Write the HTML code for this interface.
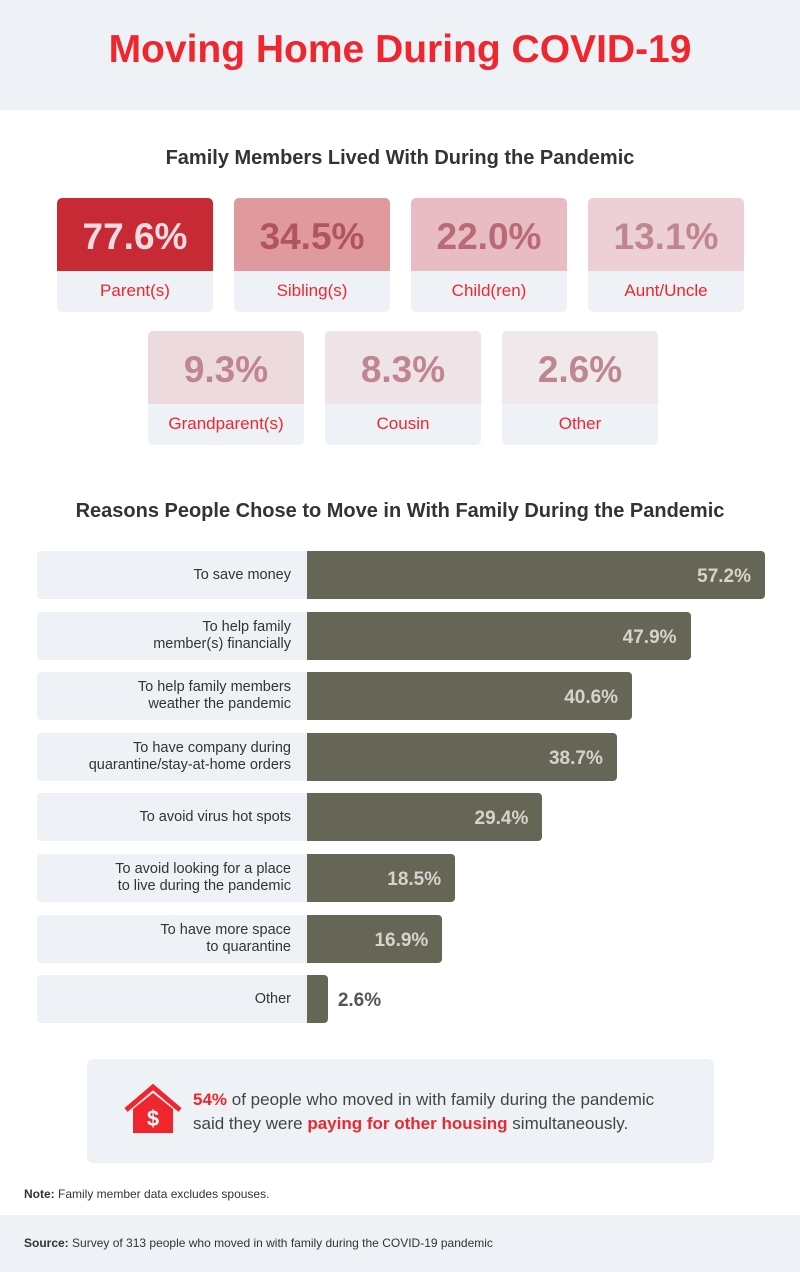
<!DOCTYPE html>
<html><head><meta charset="utf-8"><style>
*{margin:0;padding:0;box-sizing:border-box}
body{width:800px;height:1272px;background:#fff;font-family:"Liberation Sans",sans-serif;position:relative;overflow:hidden;color:#333}
.abs{position:absolute}
.card{position:absolute;width:156px;height:114px;border-radius:5px;overflow:hidden;background:#eef1f6}
.card .num{height:73px;font-weight:bold;font-size:37px;text-align:center;line-height:78px}
.card .lab{height:41px;line-height:40px;text-align:center;color:#f0262f;font-size:17px}
.lbl{position:absolute;left:37px;width:270px;height:48px;background:#eef1f6;border-radius:4px 0 0 4px;display:flex;align-items:center;justify-content:flex-end;padding-right:16px;text-align:right;font-size:14.5px;line-height:17px;color:#333}
.bar{position:absolute;left:307px;height:48px;background:#666657;border-radius:0 4px 4px 0}
.val{position:absolute;font-size:19px;font-weight:bold;line-height:52px}
</style></head><body>
<div class="abs" style="left:0;top:0;width:800px;height:110px;background:#eef1f6"></div>
<div class="abs" style="left:0;top:28px;width:800px;text-align:center;font-size:39px;font-weight:bold;color:#f0262f">Moving Home During COVID-19</div>
<div class="abs" style="left:0;top:147px;width:800px;text-align:center;font-size:20px;font-weight:bold;color:#333">Family Members Lived With During the Pandemic</div>
<div id="cards"></div>
<div class="abs" style="left:0;top:500px;width:800px;text-align:center;font-size:20px;font-weight:bold;color:#333">Reasons People Chose to Move in With Family During the Pandemic</div>
<div id="chart"></div>
<div class="abs" style="left:87px;top:1059px;width:627px;height:104px;background:#eef1f6;border-radius:6px"></div>
<svg class="abs" style="left:124px;top:1083px" width="58" height="52" viewBox="0 0 58 52"><path d="M2 27 L29 4 L56 27" fill="none" stroke="#f0262f" stroke-width="5"/><path d="M9 26 L29 10 L49 26 L49 50 L9 50Z" fill="#f0262f"/><text x="29" y="43" text-anchor="middle" font-size="22" font-weight="bold" fill="#fff" font-family="Liberation Sans">$</text></svg>
<div class="abs" style="left:193px;top:1088px;font-size:17px;line-height:24px;color:#444"><b style="color:#f0262f">54%</b> of people who moved in with family during the pandemic<br>said they were <b style="color:#f0262f">paying for other housing</b> simultaneously.</div>
<div class="abs" style="left:24px;top:1187px;font-size:12px;color:#333"><b>Note:</b> Family member data excludes spouses.</div>
<div class="abs" style="left:0;top:1215px;width:800px;height:57px;background:#eef1f6"></div>
<div class="abs" style="left:24px;top:1236px;font-size:12px;color:#333"><b>Source:</b> Survey of 313 people who moved in with family during the COVID-19 pandemic</div>
<script>
const famLabels=["Parent(s)","Sibling(s)","Child(ren)","Aunt/Uncle","Grandparent(s)","Cousin","Other"];
const famValues=[77.6,34.5,22.0,13.1,9.3,8.3,2.6];
const reasonLabels=["To save money","To help family<br>member(s) financially","To help family members<br>weather the pandemic","To have company during<br>quarantine/stay-at-home orders","To avoid virus hot spots","To avoid looking for a place<br>to live during the pandemic","To have more space<br>to quarantine","Other"];
const reasonValues=[57.2,47.9,40.6,38.7,29.4,18.5,16.9,2.6];
const cardBg=["#c82a35","#e0999e","#e8bcc2","#ecd0d5","#ecdadf","#eee3e6","#efe9ec"];
const cardFg=["#f0dce0","#b05560","#b86a75","#c08690","#c08690","#c08690","#c08690"];
const cardPos=[[57,198],[234,198],[411,198],[588,198],[148,331],[325,331],[502,331]];
const cards=document.getElementById('cards');
famValues.forEach((v,i)=>{
 const c=document.createElement('div');c.className='card';
 
 
 c.style.left=cardPos[i][0]+'px';c.style.top=cardPos[i][1]+'px';
 c.innerHTML='<div class="num" style="background:'+cardBg[i]+';color:'+cardFg[i]+'">'+v.toFixed(1)+'%</div><div class="lab">'+famLabels[i]+'</div>';
 cards.appendChild(c);
});
const chart=document.getElementById('chart');
const x=v=>v*8.007;
const rowY=i=>551+i*60.6;
reasonValues.forEach((v,i)=>{
 const y=rowY(i);
 const l=document.createElement('div');l.className='lbl';
 
 
 l.style.top=y+'px';l.innerHTML=reasonLabels[i];chart.appendChild(l);
 const b=document.createElement('div');b.className='bar';
 
 
 b.style.top=y+'px';b.style.width=x(v)+'px';chart.appendChild(b);
 const t=document.createElement('div');t.className='val';
 
 
 t.style.top=y+'px';t.textContent=v.toFixed(1)+'%';
 if(x(v)>80){t.style.left=(307+x(v)-80)+'px';t.style.width='66px';t.style.textAlign='right';t.style.color='#d4d4cc';}
 else{t.style.left=(307+x(v)+10)+'px';t.style.color='#555';}
 chart.appendChild(t);
});
</script>
</body></html>
